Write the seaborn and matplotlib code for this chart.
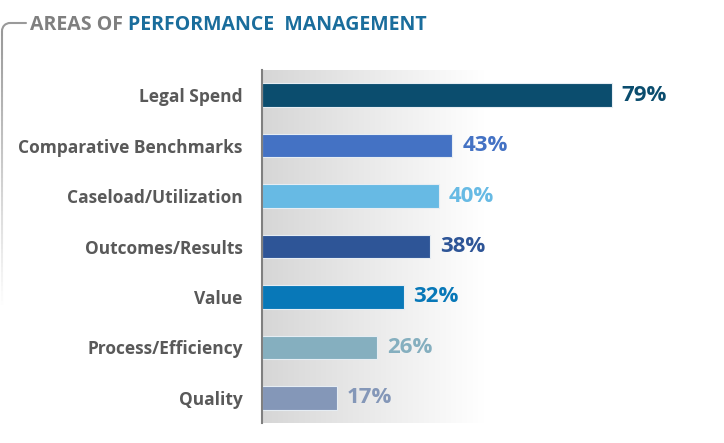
import numpy as np
import pandas as pd
import matplotlib.pyplot as plt
import seaborn as sns
from matplotlib.collections import LineCollection
from matplotlib.patches import Arc

categories = ['Legal Spend', 'Comparative Benchmarks', 'Caseload/Utilization',
              'Outcomes/Results', 'Value', 'Process/Efficiency', 'Quality']
values = [79, 43, 40, 38, 32, 26, 17]
colors = ['#0b4d6e', '#4472c4', '#67bae4', '#2e5597', '#0878b8', '#85afbf', '#8497b8']

sns.set_style('white')
plt.rcParams['font.family'] = ['Open Sans', 'DejaVu Sans']

df = pd.DataFrame({'area': categories, 'pct': values})

fig = plt.figure(figsize=(7.24, 4.43), dpi=100)
ax = fig.add_axes([262/724, 1-423/443, 443/724, 353/443])

# grey to white shading behind the bars
grad = np.linspace(0.84, 1.0, 256)
img = np.dstack([grad, grad, grad]).repeat(2, axis=0)
ax.imshow(img, extent=[0, 50, 6.5, -0.5], aspect='auto', zorder=0)

sns.barplot(data=df, x='pct', y='area', hue='area', palette=colors, legend=False,
            orient='h', width=0.47, saturation=1, edgecolor='#e6edf3', linewidth=0.8,
            ax=ax, zorder=2)

for i, (v, c) in enumerate(zip(values, colors)):
    ax.annotate(f'{v}%', xy=(v, i), xytext=(7, 0), textcoords='offset points',
                va='center', ha='left', color=c, fontsize=16, fontweight='bold')

ax.set_xlim(0, 100)
ax.set_ylim(6.5, -0.5)
ax.set_xlabel('')
ax.set_ylabel('')
ax.set_xticks([])
ax.tick_params(axis='y', length=0, pad=14)
for lab in ax.get_yticklabels():
    lab.set_fontsize(12.5)
    lab.set_fontweight('bold')
    lab.set_color('#595959')
for s in ['top', 'right', 'bottom']:
    ax.spines[s].set_visible(False)
ax.spines['left'].set_color('#808080')
ax.spines['left'].set_linewidth(1.5)

# title
t1 = fig.text(30/724, 1-25/443, 'AREAS OF ', color='#7f7f7f', fontsize=14,
              fontweight='bold', va='center', ha='left')
ax.annotate('PERFORMANCE  MANAGEMENT', xy=(1, 0), xycoords=t1, va='bottom', ha='left',
            color='#1a6d9c', fontsize=14, fontweight='bold', annotation_clip=False)

# bracket on the left
W, H = 724, 443
fig.add_artist(plt.Line2D([10/W, 26/W], [1-23/H, 1-23/H], color='#9a9a9a', lw=1.5,
                          transform=fig.transFigure))
fig.add_artist(Arc((10/W, 1-31/H), 16/W, 16/H, theta1=90, theta2=180,
                   color='#9a9a9a', lw=1.5, transform=fig.transFigure))
ys = np.linspace(1-31/H, 1-310/H, 60)
segs = [[(2/W, ys[k]), (2/W, ys[k+1])] for k in range(len(ys)-1)]
shade = np.linspace(0.6, 1.0, len(segs))
lc = LineCollection(segs, colors=[(g, g, g) for g in shade], linewidths=1.5,
                    transform=fig.transFigure)
fig.add_artist(lc)

fig.savefig('out.png', dpi=100)
